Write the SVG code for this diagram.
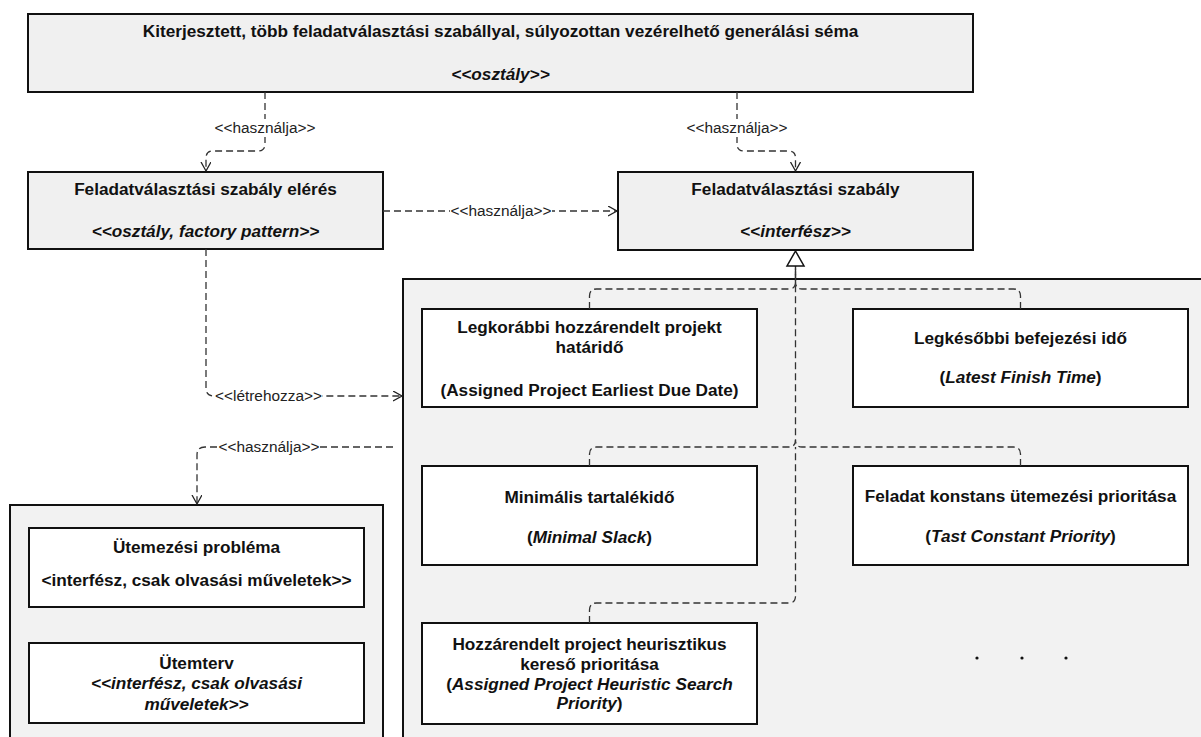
<svg xmlns="http://www.w3.org/2000/svg" width="1201" height="737" viewBox="0 0 1201 737">
<style>
.pkg{fill:#f2f2f2;stroke:#111;stroke-width:2}
.cls{fill:#f0f0f0;stroke:#111;stroke-width:2}
.wcls{fill:#fff;stroke:#111;stroke-width:2}
.t{font-family:"Liberation Sans",Arial,sans-serif;font-size:17.2px;font-weight:bold;fill:#111;text-anchor:middle}
.i{font-style:italic}
.n{font-style:normal}
.dep{fill:none;stroke:#333;stroke-width:1.3;stroke-dasharray:7 4}
.lbl{font-family:"Liberation Sans",Arial,sans-serif;font-size:15.4px;fill:#222;text-anchor:middle}
.bg{fill:#fff}
</style>
<defs>
<marker id="open" markerWidth="12" markerHeight="12" refX="9" refY="5" orient="auto" markerUnits="userSpaceOnUse">
<path d="M0,0 L9,5 L0,10" fill="none" stroke="#222" stroke-width="1.3"/>
</marker>
</defs>
<rect x="0" y="0" width="1201" height="737" fill="#fff"/>

<g id="pkg-rules">
<rect class="pkg" x="403" y="279" width="900" height="600"/>
</g>
<g id="pkg-read">
<rect class="pkg" x="10" y="505" width="373" height="300"/>
</g>

<g id="schema">
<rect class="cls" x="28" y="14" width="945" height="78"/>
<text class="t" x="500.5" y="37">Kiterjesztett, több feladatválasztási szabállyal, súlyozottan vezérelhető generálási séma</text>
<text class="t i" x="500.5" y="80">&lt;&lt;osztály&gt;&gt;</text>
</g>

<g id="rule-access">
<rect class="cls" x="28" y="172" width="355" height="77"/>
<text class="t" x="205.5" y="195">Feladatválasztási szabály elérés</text>
<text class="t i" x="205.5" y="237">&lt;&lt;osztály, factory pattern&gt;&gt;</text>
</g>

<g id="rule">
<rect class="cls" x="618" y="172" width="355" height="78"/>
<text class="t" x="795.5" y="195">Feladatválasztási szabály</text>
<text class="t i" x="795.5" y="237">&lt;&lt;interfész&gt;&gt;</text>
</g>

<g id="apedd">
<rect class="wcls" x="422" y="309" width="335" height="98"/>
<text class="t" x="589.5" y="333">Legkorábbi hozzárendelt projekt</text>
<text class="t" x="589.5" y="353">határidő</text>
<text class="t" x="589.5" y="396">(Assigned Project Earliest Due Date)</text>
</g>

<g id="lft">
<rect class="wcls" x="853" y="309" width="335" height="98"/>
<text class="t" x="1020.5" y="344">Legkésőbbi befejezési idő</text>
<text class="t" x="1020.5" y="383">(<tspan class="i">Latest Finish Time</tspan>)</text>
</g>

<g id="ms">
<rect class="wcls" x="422" y="466" width="335" height="99"/>
<text class="t" x="589.5" y="503">Minimális tartalékidő</text>
<text class="t" x="589.5" y="543">(<tspan class="i">Minimal Slack</tspan>)</text>
</g>

<g id="tcp">
<rect class="wcls" x="853" y="466" width="335" height="99"/>
<text class="t" x="1020.5" y="502">Feladat konstans ütemezési prioritása</text>
<text class="t" x="1020.5" y="542">(<tspan class="i">Tast Constant Priority</tspan>)</text>
</g>

<g id="aphsp">
<rect class="wcls" x="422" y="623" width="335" height="101"/>
<text class="t" x="589.5" y="650">Hozzárendelt project heurisztikus</text>
<text class="t" x="589.5" y="670">kereső prioritása</text>
<text class="t" x="589.5" y="690">(<tspan class="i">Assigned Project Heuristic Search</tspan></text>
<text class="t" x="589.5" y="709"><tspan class="i">Priority</tspan>)</text>
</g>

<g id="more">
<circle cx="977" cy="658" r="1.6" fill="#111"/>
<circle cx="1022" cy="658" r="1.6" fill="#111"/>
<circle cx="1066" cy="658" r="1.6" fill="#111"/>
</g>

<g id="problem">
<rect class="wcls" x="29" y="528" width="335" height="79"/>
<text class="t" x="196.5" y="553">Ütemezési probléma</text>
<text class="t" x="196.5" y="586">&lt;interfész, csak olvasási műveletek&gt;&gt;</text>
</g>

<g id="schedule">
<rect class="wcls" x="29" y="643" width="335" height="80"/>
<text class="t" x="196.5" y="669">Ütemterv</text>
<text class="t i" x="196.5" y="689">&lt;&lt;interfész, csak olvasási</text>
<text class="t i" x="196.5" y="710">műveletek&gt;&gt;</text>
</g>

<g id="connectors">
<path class="dep" d="M265,92 V144 Q265,151 258,151 H213 Q206,151 206,158 V171" marker-end="url(#open)"/>
<path class="dep" d="M737,92 V144 Q737,151 744,151 H788.5 Q795.5,151 795.5,158 V171" marker-end="url(#open)"/>
<path class="dep" d="M383,211 H617" marker-end="url(#open)"/>
<path class="dep" d="M206,249 V388 Q206,396 214,396 H402" marker-end="url(#open)"/>
<path class="dep" d="M393,447 H205 Q197,447 197,455 V504" marker-end="url(#open)"/>

<path class="dep" d="M589.5,309 V296 Q589.5,289 596.5,289 H789 Q795.5,289 795.5,282 V266"/>
<path class="dep" d="M1020.5,309 V296 Q1020.5,289 1013.5,289 H802 Q795.5,289 795.5,282 V266"/>
<path class="dep" d="M589.5,466 V454 Q589.5,447 596.5,447 H789 Q795.5,447 795.5,440 V266"/>
<path class="dep" d="M1020.5,466 V454 Q1020.5,447 1013.5,447 H802 Q795.5,447 795.5,440"/>
<path class="dep" d="M589.5,623 V610 Q589.5,603 596.5,603 H789 Q795.5,603 795.5,596 V447"/>
<polygon points="795.5,251 787,266 804,266" fill="#fff" stroke="#111" stroke-width="1.5"/>

<rect class="bg" x="214" y="119" width="102" height="18"/>
<text class="lbl" x="265" y="133">&lt;&lt;használja&gt;&gt;</text>
<rect class="bg" x="686" y="119" width="102" height="18"/>
<text class="lbl" x="737" y="133">&lt;&lt;használja&gt;&gt;</text>
<rect class="bg" x="450" y="202" width="102" height="18"/>
<text class="lbl" x="501" y="216">&lt;&lt;használja&gt;&gt;</text>
<rect class="bg" x="215" y="387" width="107" height="18"/>
<text class="lbl" x="268.5" y="401">&lt;&lt;létrehozza&gt;&gt;</text>
<rect class="bg" x="218" y="438" width="102" height="18"/>
<text class="lbl" x="269" y="452">&lt;&lt;használja&gt;&gt;</text>
</g>
</svg>
